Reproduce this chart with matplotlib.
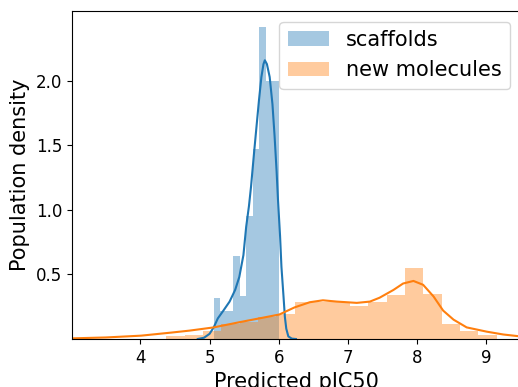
import numpy as np
import matplotlib
matplotlib.use('Agg')
import matplotlib.pyplot as plt

# histogram of scaffolds (density), 10 equal bins
scaffold_bin_start = 5.058
scaffold_bin_width = 0.0942
scaffold_heights = [0.32, 0.22, 0.22, 0.64, 0.33, 0.95, 1.47, 2.42, 2.0, 2.0]

# histogram of new molecules (density)
new_bin_start = 4.375
new_bin_width = 0.2655
new_heights = [0.02, 0.03, 0.06, 0.12, 0.13, 0.17, 0.19, 0.29, 0.29, 0.29,
               0.256, 0.29, 0.34, 0.55, 0.35, 0.12, 0.065, 0.03]

# kde curves
scaffold_kde_x = [4.83, 4.92, 5.00, 5.06, 5.12, 5.20, 5.29, 5.37, 5.43, 5.49,
                  5.53, 5.57, 5.60, 5.64, 5.68, 5.715, 5.75, 5.78, 5.80, 5.83,
                  5.87, 5.91, 5.94, 5.97, 5.99, 6.02, 6.04, 6.07, 6.09, 6.11,
                  6.14, 6.19, 6.25]
scaffold_kde_y = [0.0, 0.01, 0.04, 0.09, 0.16, 0.22, 0.29, 0.38, 0.48, 0.65,
                  0.87, 1.03, 1.18, 1.42, 1.65, 1.85, 2.03, 2.13, 2.16, 2.13,
                  2.03, 1.82, 1.58, 1.30, 1.08, 0.80, 0.56, 0.33, 0.17, 0.08,
                  0.02, 0.003, 0.0]

new_kde_x = [3.0, 3.5, 4.01, 4.45, 4.71, 5.06, 5.43, 5.77, 6.01, 6.23, 6.45,
             6.64, 6.84, 7.13, 7.32, 7.46, 7.66, 7.80, 7.95, 8.09, 8.24, 8.38,
             8.53, 8.72, 9.01, 9.25, 9.5]
new_kde_y = [0.005, 0.012, 0.026, 0.05, 0.065, 0.09, 0.13, 0.165, 0.19, 0.245,
             0.285, 0.30, 0.29, 0.28, 0.29, 0.32, 0.38, 0.43, 0.45, 0.42, 0.33,
             0.22, 0.15, 0.09, 0.057, 0.035, 0.02]

x_ticks = [4, 5, 6, 7, 8, 9]
y_ticks = [0.5, 1.0, 1.5, 2.0]

fig = plt.figure(figsize=(5.18, 3.87), dpi=100)
ax = fig.add_axes([0.139, 0.124, 0.866, 0.847])

s_left = scaffold_bin_start + scaffold_bin_width * np.arange(len(scaffold_heights))
n_left = new_bin_start + new_bin_width * np.arange(len(new_heights))

ax.bar(s_left, scaffold_heights, width=scaffold_bin_width, align='edge',
       color='C0', alpha=0.4, linewidth=0, label='scaffolds')
ax.plot(scaffold_kde_x, scaffold_kde_y, color='C0', lw=1.5)
ax.bar(n_left, new_heights, width=new_bin_width, align='edge',
       color='C1', alpha=0.4, linewidth=0, label='new molecules')
ax.plot(new_kde_x, new_kde_y, color='C1', lw=1.5)

ax.set_xlim(3.01, 9.5)
ax.set_ylim(0, 2.54)
ax.set_xticks(x_ticks)
ax.set_yticks(y_ticks)
ax.tick_params(labelsize=12)
ax.set_xlabel('Predicted pIC50', fontsize=15)
ax.set_ylabel('Population density', fontsize=15)
ax.legend(loc='upper right', fontsize=15)

fig.savefig('out.png', dpi=100)
